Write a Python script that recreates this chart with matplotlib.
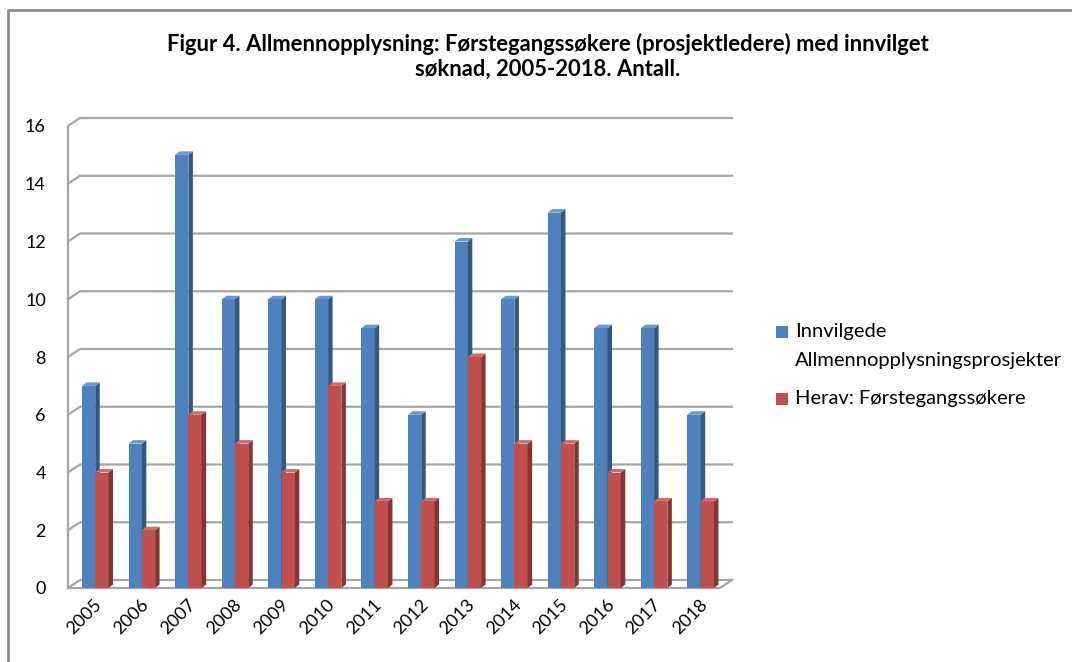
import matplotlib
matplotlib.use('Agg')  # Non-interactive backend
import matplotlib.pyplot as plt
from matplotlib.patches import Polygon, Rectangle
from matplotlib.lines import Line2D

# Data
years = ["2005", "2006", "2007", "2008", "2009", "2010", "2011",
         "2012", "2013", "2014", "2015", "2016", "2017", "2018"]
innvilgede = [7, 5, 15, 10, 10, 10, 9, 6, 12, 10, 13, 9, 9, 6]
forstegang = [4, 2, 6, 5, 4, 7, 3, 3, 8, 5, 5, 4, 3, 3]
y_ticks = [0, 2, 4, 6, 8, 10, 12, 14, 16]
series_names = ["Innvilgede\nAllmennopplysningsprosjekter", "Herav: Førstegangssøkere"]
title = ("Figur 4. Allmennopplysning: Førstegangssøkere (prosjektledere) med innvilget\n"
         "søknad, 2005-2018. Antall.")

BLUE = ("#4F81BD", "#34587F", "#6C97CB")   # front, side, top
RED = ("#C0504D", "#853533", "#CB6D6A")
GRID = "#A6A6A6"

plt.rcParams['font.family'] = ['Lato', 'DejaVu Sans']

W, H = 1072, 662
fig = plt.figure(figsize=(W / 100, H / 100), dpi=100)
ax_l, ax_b, ax_w, ax_h = 68, 74, 652, 462
ax = fig.add_axes([ax_l / W, ax_b / H, ax_w / W, ax_h / H])
n = len(years)
ax.set_xlim(-0.5, n - 0.5)
ax.set_ylim(0, 16)
for s in ax.spines.values():
    s.set_visible(False)

# pixel -> data helpers for the fake 3D depth
px_x = ax_w / n
px_y = ax_h / 16.0
wdx, wdy = 12 / px_x, 8 / px_y      # back wall depth
bdx, bdy = 4.5 / px_x, 3.5 / px_y   # bar depth

# back wall gridlines with diagonal on the left
for v in y_ticks:
    ax.plot([-0.5, -0.5 + wdx, n - 0.5 + wdx], [v, v + wdy, v + wdy],
            color=GRID, lw=1.6, clip_on=False, zorder=1)
# floor front edge + right diagonal, left wall edge
ax.plot([-0.5, n - 0.5, n - 0.5 + wdx], [0, 0, wdy], color=GRID, lw=1.6, clip_on=False, zorder=1)
ax.plot([-0.5, -0.5], [0, 16], color=GRID, lw=1.6, clip_on=False, zorder=1)


def bar3d(x0, w, h, colors, z):
    front, side, top = colors
    ax.bar(x0, h, w, align='edge', color=front, zorder=z, linewidth=0)
    ax.add_patch(Polygon([(x0 + w, 0), (x0 + w + bdx, bdy), (x0 + w + bdx, h + bdy), (x0 + w, h)],
                         closed=True, facecolor=side, edgecolor='none', zorder=z, clip_on=False))
    ax.add_patch(Polygon([(x0, h), (x0 + bdx, h + bdy), (x0 + w + bdx, h + bdy), (x0 + w, h)],
                         closed=True, facecolor=top, edgecolor='none', zorder=z, clip_on=False))


bw = 0.285
for i in range(n):
    bar3d(i - 0.2, bw, innvilgede[i], BLUE, 3 + 2 * i)
    bar3d(i - 0.2 + bw, bw, forstegang[i], RED, 4 + 2 * i)

ax.set_yticks(y_ticks)
ax.set_yticklabels([str(v) for v in y_ticks], fontsize=13)
ax.tick_params(axis='y', length=0, pad=16)
ax.set_xticks([i + 0.3 for i in range(n)])
ax.set_xticklabels(years, rotation=45, ha='right', fontsize=13)
ax.tick_params(axis='x', length=0, pad=6)

fig.text(0.511, 1 - 33 / H, title, ha='center', va='top', fontsize=15.8,
         fontweight='bold', linespacing=1.2)

# legend drawn manually so the blue key sits on the first line
for yk, name, col in [(332, series_names[0], BLUE[0]), (399, series_names[1], RED[0])]:
    fig.add_artist(Rectangle((776 / W, 1 - (yk + 6) / H), 12 / W, 12 / H,
                             transform=fig.transFigure, facecolor=col, edgecolor='none'))
    fig.text(795 / W, 1 - (yk - 9) / H, name, ha='left', va='top', fontsize=14.5,
             linespacing=1.85)

# outer chart border (only left and top visible in the crop)
fig.add_artist(Line2D([7.5 / W, 7.5 / W, 1.0], [0.0, 1 - 10 / H, 1 - 10 / H],
                      transform=fig.transFigure, color="#8C8C8C", lw=2))

fig.savefig("out.png", dpi=100)
